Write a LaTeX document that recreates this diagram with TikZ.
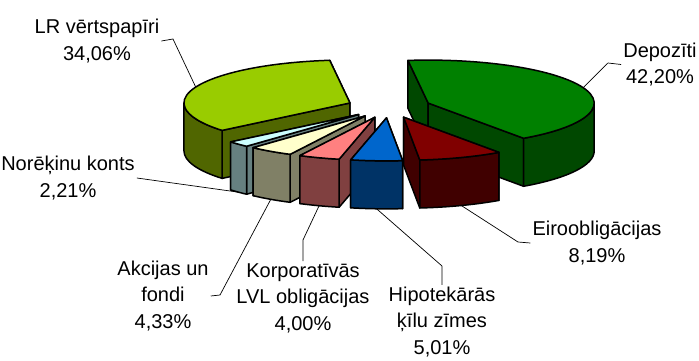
\documentclass[tikz,border=0pt]{standalone}
\usepackage{fontspec}
\setmainfont{Liberation Sans}

\definecolor{depTop}{RGB}{0,128,0}
\definecolor{depSide}{RGB}{0,72,0}
\definecolor{lrTop}{RGB}{153,204,0}
\definecolor{lrSide}{RGB}{80,102,0}
\definecolor{norTop}{RGB}{204,255,255}
\definecolor{norSide}{RGB}{102,128,128}
\definecolor{akcTop}{RGB}{255,255,204}
\definecolor{akcSide}{RGB}{128,128,102}
\definecolor{korpTop}{RGB}{255,128,128}
\definecolor{korpSide}{RGB}{128,64,64}
\definecolor{hipTop}{RGB}{0,102,204}
\definecolor{hipSide}{RGB}{0,51,102}
\definecolor{eiroTop}{RGB}{128,0,0}
\definecolor{eiroSide}{RGB}{64,0,0}

\begin{document}
\begin{tikzpicture}[x=1pt, y=1pt,
    face/.style = {draw=black, line width=1.5pt, line join=round},
    leader/.style = {draw=black, line width=0.7pt},
    lbl/.style = {align=center, inner sep=2pt, font=\fontsize{20}{26.5}\selectfont}]

    \useasboundingbox (-389,-254) rectangle (310,107);

    % slices, back ones first
    \foreach \sa/\sb/\nm in {-54.92/97/dep, -263/-140.384/lr, -140.384/-132.428/nor,
        -132.428/-116.84/akc, -116.84/-102.44/korp, -102.44/-84.404/hip, -84.404/-54.92/eiro}{
        \pgfmathsetmacro\md{(\sa+\sb)/2}
        \pgfmathsetmacro\lo{max(\sa,-180)}
        \pgfmathsetmacro\hi{min(\sb,0)}
        \pgfmathsetmacro\fe{cos(\sa)>0 ? \sb : \sa}
        \pgfmathsetmacro\se{\sa+\sb-\fe}
        \pgfmathsetmacro\dy{sin(\md)>0 ? 0 : -48}
        \begin{scope}[shift={({42*cos(\md)},{10.88*sin(\md)})}]
            \draw[face, fill=\nm Side] (0,0) -- (\fe:166pt and 43pt) -- ++(0,-48) -- (0,-48) -- cycle;
            \draw[face, fill=\nm Side] (0,0) -- (\se:166pt and 43pt) -- ++(0,-48) -- (0,-48) -- cycle;
            \draw[face, fill=\nm Side] (\lo:166pt and 43pt)
                arc[start angle=\lo, end angle=\hi, x radius=166pt, y radius=43pt] -- ++(0,-48)
                arc[start angle=\hi, end angle=\lo, x radius=166pt, y radius=43pt] -- cycle;
            \draw[face, fill=\nm Top] (0,0) -- (\sa:166pt and 43pt)
                arc[start angle=\sa, end angle=\sb, x radius=166pt, y radius=43pt] -- cycle;
            \coordinate (p\nm) at ({166*cos(\md)},{43*sin(\md)+\dy});
        \end{scope}
    }

    \node[lbl] (dep) at (271,42.5) {Depozīti\\42,20\%};
    \node[lbl] (lr) at (-292,66) {LR vērtspapīri\\34,06\%};
    \node[lbl] (nor) at (-321,-71) {Norēķinu konts\\2,21\%};
    \node[lbl] (akc) at (-226,-189) {Akcijas un\\fondi\\4,33\%};
    \node[lbl] (korp) at (-86,-191) {Korporatīvās\\LVL obligācijas\\4,00\%};
    \node[lbl] (hip) at (53,-215) {Hipotekārās\\ķīlu zīmes\\5,01\%};
    \node[lbl] (eiro) at (208,-136) {Eiroobligācijas\\8,19\%};

    \draw[leader] (pdep) -- (219,44) -- (dep.west);
    \draw[leader] (plr) -- (-216,68) -- (lr.east);
    \draw[leader] (pnor) -- (nor.east);
    \draw[leader] (pakc) -- (-169,-188) -- (akc.east);
    \draw[leader] (pkorp) -- (-86,-133) -- (korp.north);
    \draw[leader] (phip) -- (53,-159) -- (hip.north);
    \draw[leader] (peiro) -- (129,-135) -- (eiro.west);

\end{tikzpicture}
\end{document}
